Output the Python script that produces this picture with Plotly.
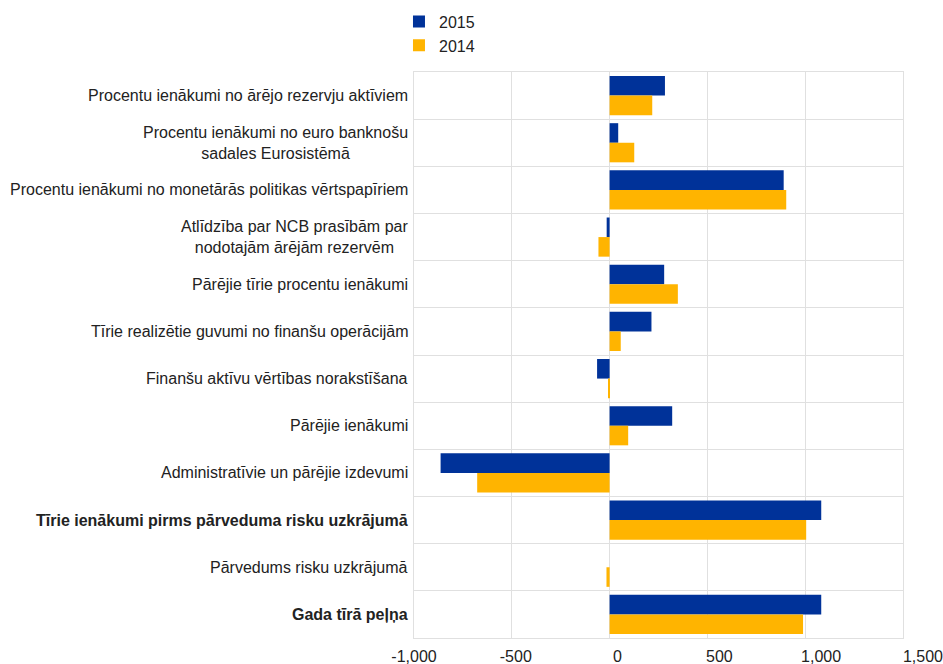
import plotly.graph_objects as go

categories = [
    "Procentu ienākumi no ārējo rezervju aktīviem",
    "Procentu ienākumi no euro banknošu<br>sadales Eurosistēmā",
    "Procentu ienākumi no monetārās politikas vērtspapīriem",
    "Atlīdzība par NCB prasībām par<br>nodotajām ārējām rezervēm",
    "Pārējie tīrie procentu ienākumi",
    "Tīrie realizētie guvumi no finanšu operācijām",
    "Finanšu aktīvu vērtības norakstīšana",
    "Pārējie ienākumi",
    "Administratīvie un pārējie izdevumi",
    "<b>Tīrie ienākumi pirms pārveduma risku uzkrājumā</b>",
    "Pārvedums risku uzkrājumā",
    "<b>Gada tīrā peļņa</b>",
]
values_2015 = [283, 44, 890, -15, 279, 214, -64, 320, -864, 1082, 0, 1082]
values_2014 = [218, 126, 903, -57, 349, 57, -7, 95, -677, 1005, -16, 989]
tick_vals = [-1000, -500, 0, 500, 1000, 1500]
tick_text = ["-1,000", "-500", "0", "500", "1,000", "1,500"]

BLUE = "#003299"
YELLOW = "#FFB400"
GRID = "#E0E0E0"
TEXT = "#222222"
FONT = "Liberation Sans, Arial, sans-serif"

y_idx = list(range(len(categories)))
n = len(categories)

fig = go.Figure()
fig.add_trace(go.Bar(y=y_idx, x=values_2015, orientation="h", name="2015",
                     marker=dict(color=BLUE, line=dict(width=0)),
                     xaxis="x", yaxis="y"))
fig.add_trace(go.Bar(y=y_idx, x=values_2014, orientation="h", name="2014",
                     marker=dict(color=YELLOW, line=dict(width=0)),
                     xaxis="x", yaxis="y"))
# helper (empty) trace so the tick-label axis gets drawn
fig.add_trace(go.Scatter(x=[], y=[], xaxis="x2", yaxis="y2", showlegend=False,
                         hoverinfo="skip"))

for i, c in enumerate(categories):
    fig.add_annotation(x=0, xref="paper", xanchor="right", xshift=-4,
                       y=i, yref="y", yanchor="middle", text=c, showarrow=False,
                       align="center", font=dict(size=16, color=TEXT, family=FONT))

fig.update_layout(
    width=943, height=664,
    margin=dict(l=414, r=20, t=72, b=26, autoexpand=False),
    paper_bgcolor="white", plot_bgcolor="rgba(0,0,0,0)",
    barmode="group", bargap=0.17, bargroupgap=0,
    font=dict(family=FONT, size=16, color=TEXT),
    legend=dict(xref="container", yref="container", x=0.4231, y=0.993,
                xanchor="left", yanchor="top",
                traceorder="normal", font=dict(size=16, color=TEXT),
                bgcolor="rgba(0,0,0,0)"),
    xaxis=dict(domain=[0, 489 / 509], range=[-1000, 1500], tickvals=tick_vals,
               showticklabels=False, showgrid=True, gridcolor=GRID, gridwidth=1,
               zeroline=False, showline=True, linecolor=GRID, mirror=True,
               ticks="", fixedrange=True, anchor="y"),
    yaxis=dict(range=[n - 0.5, -0.5], tickvals=[i + 0.5 for i in range(-1, n)],
               showticklabels=False, showgrid=True, gridcolor=GRID, gridwidth=1,
               zeroline=False, showline=True, linecolor=GRID, mirror=True,
               ticks="", fixedrange=True, anchor="x"),
    xaxis2=dict(domain=[0, 1], range=[-1000, 1500.5], tickvals=tick_vals, ticktext=tick_text,
                showgrid=False, zeroline=False, showline=False, anchor="y2",
                ticks="outside", ticklen=4, tickcolor="rgba(0,0,0,0)",
                ticklabeloverflow="allow",
                tickfont=dict(size=16, color=TEXT), fixedrange=True),
    yaxis2=dict(range=[0, 1], visible=False, anchor="x2", fixedrange=True),
    showlegend=True,
)

fig.write_html("out.html", config={"displayModeBar": False},
               post_script="document.body.style.margin='0';document.body.style.overflow='hidden';")
